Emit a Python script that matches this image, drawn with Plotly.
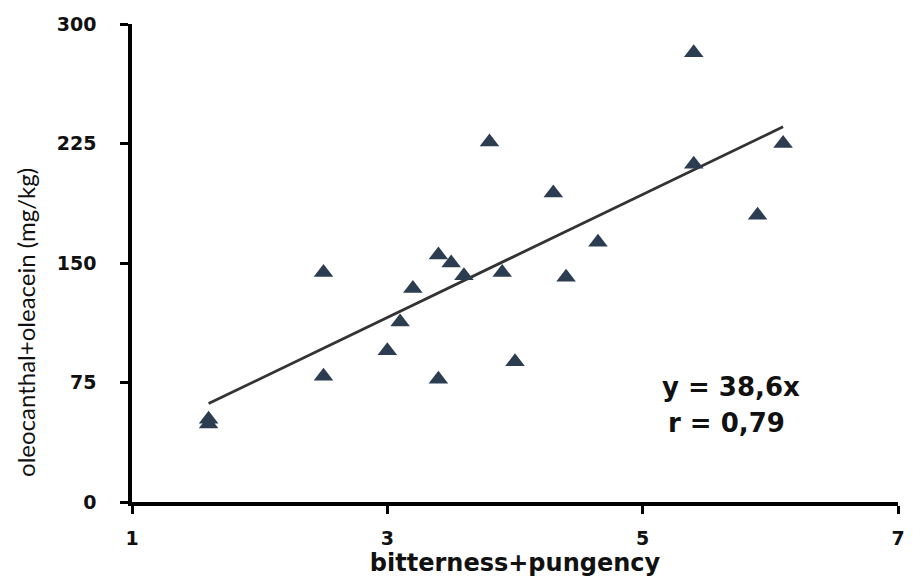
import plotly.graph_objects as go

# Data
bitterness_pungency = [1.6, 1.6, 2.5, 2.5, 3.0, 3.1, 3.2, 3.4, 3.4, 3.5, 3.6, 3.8, 3.9, 4.0,
                       4.3, 4.4, 4.65, 5.4, 5.4, 5.9, 6.1]
oleocanthal_oleacein = [52, 49, 79, 144, 95, 113, 134, 77, 155, 150, 142, 226, 144, 88,
                        194, 141, 163, 282, 212, 180, 225]
slope = 38.6
fit_x = [1.6, 6.1]
fit_y = [slope * v for v in fit_x]

x_ticks = [1, 3, 5, 7]
y_ticks = [0, 75, 150, 225, 300]

BOLD = "'DejaVu Sans', sans-serif"
REG = "Lato, 'Open Sans', sans-serif"
TXT = "#111111"

L, R, T, B = 132, 8, 24, 80
W, H = 913, 582
PW, PH = W - L - R, H - T - B

fig = go.Figure()
fig.add_trace(go.Scatter(
    x=fit_x, y=fit_y, mode="lines",
    line=dict(color="#333333", width=2.8),
    showlegend=False, hoverinfo="skip"))
fig.add_trace(go.Scatter(
    x=bitterness_pungency, y=oleocanthal_oleacein, mode="markers",
    marker=dict(symbol="triangle-up", size=17, color="#2c3d52"),
    showlegend=False))

fig.add_annotation(x=5.69, y=72, xref="x", yref="y", text="y = 38,6x",
                   showarrow=False, font=dict(family=BOLD, size=26, color=TXT, weight=700))
fig.add_annotation(x=5.66, y=49.5, xref="x", yref="y", text="r = 0,79",
                   showarrow=False, font=dict(family=BOLD, size=26, color=TXT, weight=700))

# y-axis title placed by pixel position converted to paper coords
fig.add_annotation(x=(24 - L) / PW, y=(H - B - 322) / PH, xref="paper", yref="paper",
                   xanchor="center", yanchor="middle",
                   text="oleocanthal+oleacein (mg/kg)",
                   showarrow=False, textangle=-90,
                   font=dict(family=REG, size=24, color=TXT))

fig.update_layout(
    width=W, height=H,
    margin=dict(l=L, r=R, t=T, b=B),
    plot_bgcolor="white", paper_bgcolor="white",
    font=dict(family=BOLD, color=TXT),
    xaxis=dict(
        range=[1, 7], tickvals=x_ticks, ticktext=[str(v) for v in x_ticks],
        showgrid=False, zeroline=False, showline=True, linecolor="black", linewidth=3.5,
        ticks="outside", ticklen=8, tickwidth=3, tickcolor="black",
        ticklabelstandoff=8,
        tickfont=dict(family=BOLD, size=19, color=TXT, weight=700),
        title=dict(text="bitterness+pungency",
                   font=dict(family=BOLD, size=24, color=TXT, weight=700),
                   standoff=6),
    ),
    yaxis=dict(
        range=[0, 300], tickvals=y_ticks, ticktext=[str(v) for v in y_ticks],
        showgrid=False, zeroline=False, showline=True, linecolor="black", linewidth=3.5,
        ticks="outside", ticklen=8, tickwidth=3, tickcolor="black",
        ticklabelstandoff=20,
        tickfont=dict(family=BOLD, size=19, color=TXT, weight=700),
    ),
)

fig.write_html("out.html")
